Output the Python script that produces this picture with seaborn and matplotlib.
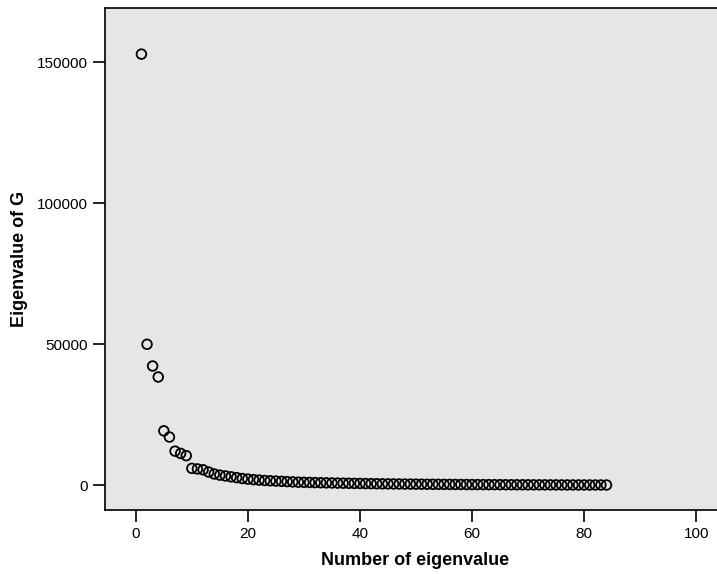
import numpy as np
import pandas as pd
from matplotlib import pyplot as plt
import seaborn as sns

# eigenvalues of G (index 1..84)
eigen_number = list(range(1, 85))
eigen_value = [
    152800, 49900, 42200, 38300, 19200, 17000, 12000, 11200, 10400, 5900,
    5700, 5400, 4600, 3900, 3500, 3200, 2900, 2600, 2300, 2100,
    1900, 1750, 1600, 1500, 1400, 1300, 1200, 1100, 1000, 950,
    900, 850, 800, 760, 720, 680, 640, 600, 570, 540,
    510, 480, 450, 420, 400, 380, 360, 340, 320, 300,
    280, 265, 250, 235, 220, 205, 190, 180, 170, 160,
    150, 140, 130, 120, 110, 100, 92, 85, 78, 71,
    64, 58, 52, 46, 40, 35, 30, 25, 20, 16,
    12, 8, 5, 2,
]
x_ticks = [0, 20, 40, 60, 80, 100]
y_ticks = [0, 50000, 100000, 150000]

df = pd.DataFrame({'number': eigen_number, 'eigenvalue': eigen_value})

sns.set_style('ticks')
plt.rcParams['font.family'] = ['Liberation Sans', 'DejaVu Sans']
plt.rcParams['text.color'] = 'black'
plt.rcParams['axes.labelcolor'] = 'black'
plt.rcParams['xtick.color'] = 'black'
plt.rcParams['ytick.color'] = 'black'

fig = plt.figure(figsize=(7.17, 5.74), dpi=100)
ax = fig.add_axes([105 / 717, 1 - 510 / 574, 1 - 105 / 717 + 0.01, (510 - 8) / 574])
ax.set_facecolor('#e6e6e6')

sns.scatterplot(data=df, x='number', y='eigenvalue', ax=ax, s=48, marker='o',
                facecolor='none', edgecolor='black', linewidth=1.3)

ax.set_xlim(-5.5, 105)
ax.set_ylim(-8865, 169150)
ax.set_xticks(x_ticks)
ax.set_yticks(y_ticks)
ax.tick_params(axis='both', direction='out', length=8.5, width=1.2, labelsize=11,
               color='black', labelcolor='black')
for side in ['left', 'bottom', 'top']:
    ax.spines[side].set_color('black')
    ax.spines[side].set_linewidth(1.2)
ax.spines['right'].set_visible(False)

ax.set_xlabel('Number of eigenvalue', fontsize=13, fontweight='bold', labelpad=8)
ax.set_ylabel('Eigenvalue of G', fontsize=13, fontweight='bold', labelpad=7)

fig.savefig('out.png', dpi=100)
